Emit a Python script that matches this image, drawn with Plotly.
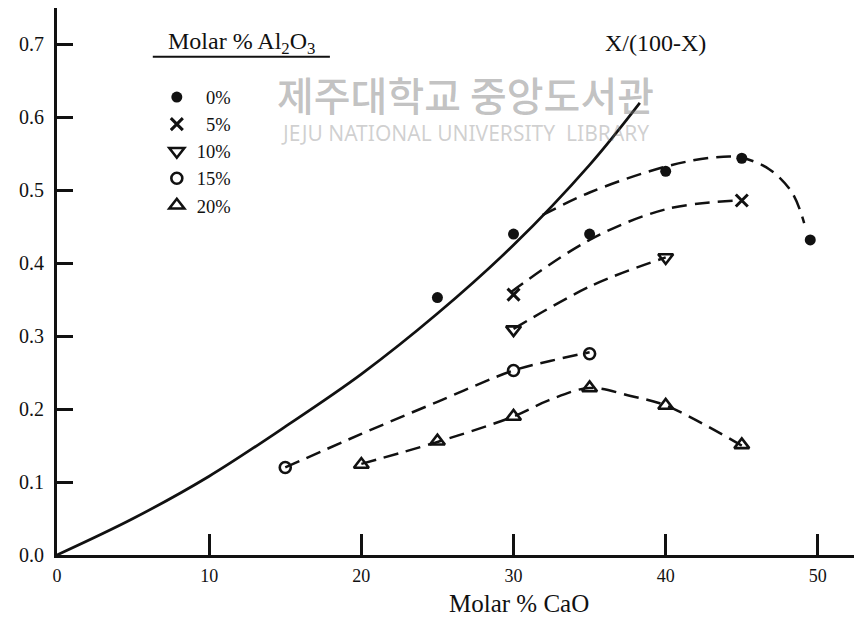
import plotly.graph_objects as go

# ---- data ----
cao_0 = [25, 30, 35, 40, 45, 49.5]
val_0 = [0.353, 0.44, 0.44, 0.526, 0.544, 0.432]
cao_5 = [30, 45]
val_5 = [0.357, 0.486]
cao_10 = [30, 40]
val_10 = [0.309, 0.408]
cao_15 = [15, 30, 35]
val_15 = [0.12, 0.253, 0.276]
cao_20 = [20, 25, 30, 35, 40, 45]
val_20 = [0.124, 0.156, 0.19, 0.229, 0.205, 0.151]

# fitted dashed curves (hand drawn in the original)
fit0_x = [31.9, 35, 39.9, 43.1, 44.9, 46.8, 48.3, 49.1]
fit0_y = [0.466, 0.497, 0.532, 0.545, 0.545, 0.529, 0.497, 0.455]
fit5_x = [29.8, 35, 40, 44.7]
fit5_y = [0.36, 0.432, 0.474, 0.486]
fit10_x = [30, 35.2, 40]
fit10_y = [0.31, 0.37, 0.408]
fit15_x = [15, 20, 25, 30, 32.4, 35]
fit15_y = [0.12, 0.166, 0.21, 0.253, 0.266, 0.278]
fit20_x = [20, 25, 30, 32.3, 35, 37.7, 40, 45]
fit20_y = [0.125, 0.155, 0.19, 0.212, 0.229, 0.218, 0.205, 0.15]

# solid reference curve X/(100-X)
ref_x = [0, 5, 10, 15, 20, 25, 30, 35, 38.3]
ref_y = [0, 0.05, 0.108, 0.176, 0.248, 0.331, 0.425, 0.535, 0.62]

legend_labels = ["\u20070%", "\u20075%", "10%", "15%", "20%"]

SERIF = "Liberation Serif"
BLACK = "#111111"
dash = "15px,8px"

fig = go.Figure()

fig.add_trace(go.Scatter(x=ref_x, y=ref_y, mode="lines", line=dict(color=BLACK, width=2.7, shape="spline"),
                         showlegend=False, hoverinfo="skip"))
for fx, fy in [(fit0_x, fit0_y), (fit5_x, fit5_y), (fit10_x, fit10_y), (fit15_x, fit15_y), (fit20_x, fit20_y)]:
    fig.add_trace(go.Scatter(x=fx, y=fy, mode="lines",
                             line=dict(color=BLACK, width=2.5, dash=dash, shape="spline", smoothing=1.0),
                             showlegend=False, hoverinfo="skip"))

fig.add_trace(go.Scatter(x=cao_0, y=val_0, mode="markers", name=legend_labels[0],
                         marker=dict(symbol="circle", size=11, color=BLACK)))
fig.add_trace(go.Scatter(x=cao_5, y=val_5, mode="markers", name=legend_labels[1],
                         marker=dict(symbol="x-thin", size=12, line=dict(color=BLACK, width=3))))
fig.add_trace(go.Scatter(x=cao_10, y=val_10, mode="markers", name=legend_labels[2],
                         marker=dict(symbol="triangle-down-open", size=13, color=BLACK, line=dict(width=2.6))))
fig.add_trace(go.Scatter(x=cao_15, y=val_15, mode="markers", name=legend_labels[3],
                         marker=dict(symbol="circle-open", size=11, color=BLACK, line=dict(width=2.6))))
fig.add_trace(go.Scatter(x=cao_20, y=val_20, mode="markers", name=legend_labels[4],
                         marker=dict(symbol="triangle-up-open", size=13, color=BLACK, line=dict(width=2.6))))

# page body has an 8px margin, so the figure is 8px smaller than the window
fig.update_layout(
    width=854, height=609,
    margin=dict(l=49, r=0, t=0, b=62, autoexpand=False),
    paper_bgcolor="white", plot_bgcolor="white",
    font=dict(family=SERIF, color=BLACK, size=18),
    showlegend=True,
    legend=dict(x=0.124, y=0.871, xanchor="left", yanchor="top",
                bgcolor="rgba(0,0,0,0)", borderwidth=0,
                font=dict(family=SERIF, size=18.5, color=BLACK)),
    xaxis=dict(range=[0, 52.9], tickvals=[0, 10, 20, 30, 40, 50], showgrid=False, zeroline=False,
               showline=True, linewidth=3, linecolor=BLACK, ticks="inside", ticklen=21, tickwidth=3,
               tickcolor=BLACK, tickfont=dict(family=SERIF, size=18, color=BLACK), ticklabelstandoff=2),
    yaxis=dict(range=[0, 0.75], tickvals=[0, 0.1, 0.2, 0.3, 0.4, 0.5, 0.6, 0.7], tickformat=".1f",
               showgrid=False, zeroline=False,
               showline=True, linewidth=3, linecolor=BLACK, ticks="inside", ticklen=16, tickwidth=3,
               tickcolor=BLACK, tickfont=dict(family=SERIF, size=20, color=BLACK), ticklabelstandoff=6),
    shapes=[dict(type="line", xref="paper", yref="paper", x0=0.119, x1=0.339, y0=0.911, y1=0.911,
                 line=dict(color=BLACK, width=2))],
    annotations=[
        dict(text="제주대학교 중앙도서관", xref="paper", yref="paper", x=0.507, y=0.843,
             xanchor="center", yanchor="middle", showarrow=False,
             font=dict(family="Noto Sans CJK KR", size=40, weight=500, color="rgba(120,120,120,0.45)")),
        dict(text="JEJU NATIONAL UNIVERSITY  LIBRARY", xref="paper", yref="paper", x=0.507, y=0.771,
             xanchor="center", yanchor="middle", showarrow=False,
             font=dict(family="Noto Sans", size=21, color="rgba(120,120,120,0.35)")),
        dict(text="Molar % Al<sub>2</sub>O<sub>3</sub>", xref="paper", yref="paper", x=0.2286, y=0.936,
             xanchor="center", yanchor="middle", showarrow=False,
             font=dict(family=SERIF, size=24, color=BLACK)),
        dict(text="X/(100-X)", xref="paper", yref="paper", x=0.744, y=0.936,
             xanchor="center", yanchor="middle", showarrow=False,
             font=dict(family=SERIF, size=24, color=BLACK)),
        dict(text="Molar % CaO", xref="paper", yref="paper", x=0.574, y=-0.088,
             xanchor="center", yanchor="middle", showarrow=False,
             font=dict(family=SERIF, size=25, color=BLACK)),
    ],
)

fig.write_html("out.html")
